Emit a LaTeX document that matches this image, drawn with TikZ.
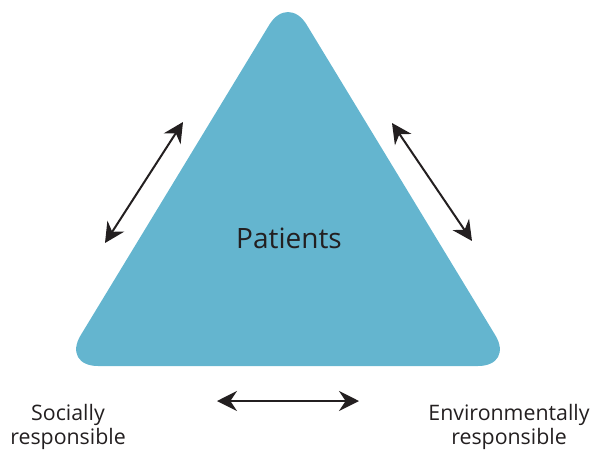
\documentclass[tikz,border=0pt]{standalone}
\usepackage{fontspec}
\setmainfont{Open Sans}
\usetikzlibrary{arrows.meta}
\definecolor{triblue}{RGB}{100,181,207}
\definecolor{ink}{RGB}{35,31,32}
\begin{document}
\begin{tikzpicture}[x=0.75pt,y=-0.75pt,
  tri/.style={fill=triblue, rounded corners=27pt},
  twoway/.style={draw=ink, line width=1.5pt,
    {Stealth[length=15pt,width=15pt,inset=5pt]}-{Stealth[length=15pt,width=15pt,inset=5pt]}},
  label/.style={text=ink, font=\fontsize{16}{17.5}\selectfont, align=center, inner sep=0pt},
  title/.style={text=ink, font=\fontsize{21}{24}\selectfont, inner sep=0pt}]
\useasboundingbox (0,0) rectangle (593,450);
% the triangle
\path[tri] (288,-6) -- (514,366) -- (62,366) -- cycle;
\node[title] (patients) at (289,238) {Patients};
% corner labels
\node[label] (social) at (68,427) {Socially\\responsible};
\node[label] (env) at (509,427) {Environmentally\\responsible};
% double-headed arrows along the sides
\coordinate (l1) at (105,243);
\coordinate (l2) at (183,122);
\coordinate (r1) at (392,123);
\coordinate (r2) at (472,241);
\coordinate (b1) at (217,401);
\coordinate (b2) at (359,401);
\draw[twoway] (l1) -- (l2);
\draw[twoway] (r1) -- (r2);
\draw[twoway] (b1) -- (b2);
\end{tikzpicture}
\end{document}
